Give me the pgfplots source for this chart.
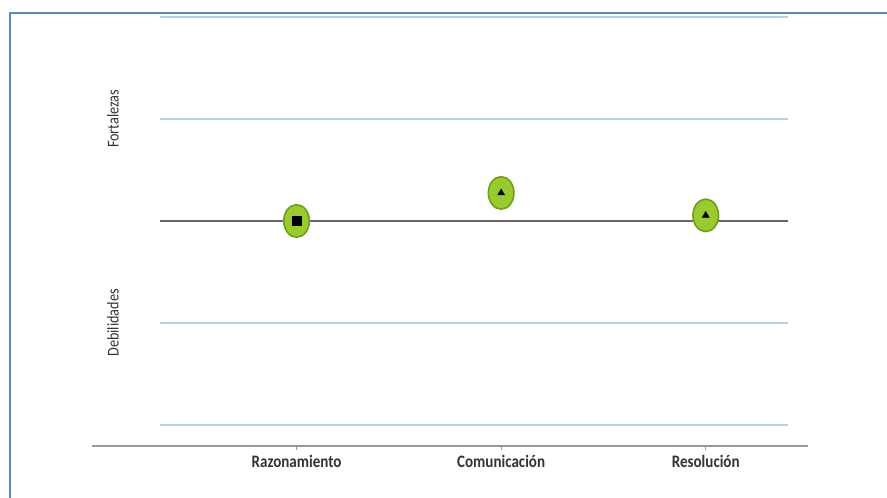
\documentclass[border=0pt]{standalone}
\usepackage{fontspec}
\setmainfont{Carlito}
\newfontfamily\labfont[FakeStretch=0.86]{Carlito}
\usepackage{pgfplots}
\pgfplotsset{compat=1.18}
\definecolor{gridblue}{HTML}{B4CEEA}
\definecolor{frameblue}{HTML}{5B87C5}
\definecolor{ptgreen}{HTML}{9ACB2E}
\definecolor{ptedge}{HTML}{6F9E1C}

\begin{document}
\begin{tikzpicture}[x=1pt,y=1pt]
\useasboundingbox (0,0) rectangle (887,498);
\draw[frameblue, line width=2.2pt] (10,-5) -- (10,485) -- (892,485);
\begin{axis}[
  at={(92pt,52pt)}, anchor=south west,
  scale only axis, width=716pt, height=433pt,
  xmin=0, xmax=3.5, ymin=-2.206, ymax=2.039,
  axis x line=bottom, axis y line=none,
  axis line style={black!40, line width=1.6pt, -},
  xtick={1,2,3},
  xticklabels={Razonamiento,Comunicación,Resolución},
  tick align=outside, major tick length=4pt,
  tick style={black!40, line width=0.8pt},
  x tick label style={font=\labfont\fontsize{17.5}{18}\selectfont\bfseries,
    text=black!80, yshift=-2pt},
  clip=false,
]
% gridlines
\addplot[gridblue, line width=2pt] coordinates {(0.332,2) (3.402,2)};
\addplot[gridblue, line width=2pt] coordinates {(0.332,1) (3.402,1)};
\addplot[gridblue, line width=2pt] coordinates {(0.332,-1) (3.402,-1)};
\addplot[gridblue, line width=2pt] coordinates {(0.332,-2) (3.402,-2)};
\addplot[black!60, line width=1.8pt] coordinates {(0.332,0) (3.402,0)};
% side labels
\node[rotate=90, font=\labfont\fontsize{16.5}{17}\selectfont, text=black!80] at (axis cs:0.103,1) {Fortalezas};
\node[rotate=90, font=\labfont\fontsize{16.5}{17}\selectfont, text=black!80] at (axis cs:0.103,-1) {Debilidades};
% points
\addplot[only marks, mark=*, mark size=12.8pt,
  mark options={yscale=1.27, fill=ptgreen, draw=ptedge, line width=1.6pt}]
  coordinates {(1,0) (2,0.275) (3,0.055)};
\addplot[only marks, mark=square*, mark size=4.5pt, black] coordinates {(1,0)};
\addplot[only marks, mark=triangle*, mark size=4pt, black] coordinates {(2,0.275) (3,0.055)};
\end{axis}
\end{tikzpicture}
\end{document}
